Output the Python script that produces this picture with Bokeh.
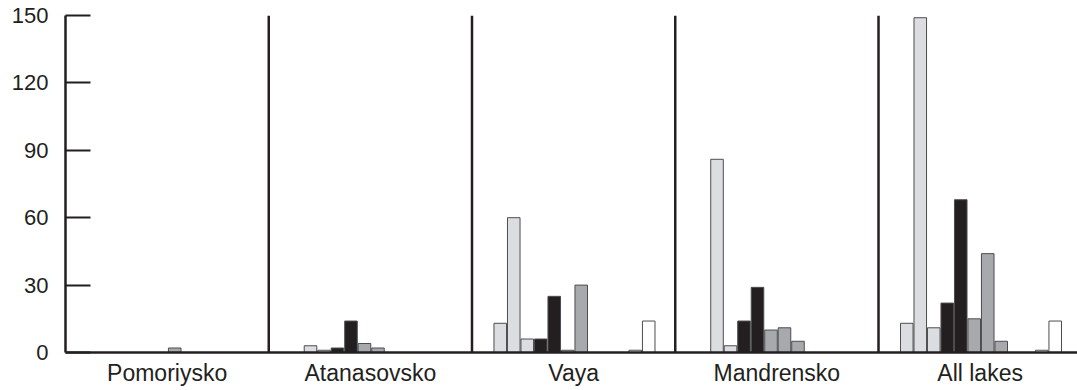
from bokeh.plotting import figure
from bokeh.models import ColumnDataSource, Range1d, FixedTicker
from bokeh.embed import file_html
from bokeh.resources import INLINE

# Lakes (x groups) and counts for the twelve taxa shown in each group
lakes = ["Pomoriysko", "Atanasovsko", "Vaya", "Mandrensko", "All lakes"]

pomoriysko = [0, 0, 0, 0, 0, 0, 2, 0, 0, 0, 0, 0]
atanasovsko = [0, 3, 1, 2, 14, 4, 2, 0, 0, 0, 0, 0]
vaya = [13, 60, 6, 6, 25, 1, 30, 0, 0, 0, 1, 14]
mandrensko = [0, 86, 3, 14, 29, 10, 11, 5, 0, 0, 0, 0]
all_lakes = [13, 149, 11, 22, 68, 15, 44, 5, 0, 0, 1, 14]

# fill per taxon slot (same order in every group)
taxon_colors = ["#dcdde0"] * 3 + ["#231f20"] * 2 + ["#a7a9ac"] * 3 + ["#ffffff"] * 4

y_ticks = [0, 30, 60, 90, 120, 150]

series = [pomoriysko, atanasovsko, vaya, mandrensko, all_lakes]

# geometry in "group" units: each lake occupies one unit on the x axis
slot_w = 0.0664
pad = 0.1058
x_end = 4.979

xs, tops, fills = [], [], []
for g, vals in enumerate(series):
    for k, v in enumerate(vals):
        xs.append(g + pad + (k + 0.5) * slot_w)
        tops.append(v)
        fills.append(taxon_colors[k])

src = ColumnDataSource(dict(x=xs, top=tops, fill=fills))

p = figure(width=1077, height=390, output_backend="svg", toolbar_location=None,
           x_range=Range1d(0, x_end), y_range=Range1d(0, 150),
           min_border_left=65, min_border_right=0, min_border_top=15,
           min_border_bottom=38)
p.outline_line_color = None
p.xgrid.grid_line_color = None
p.ygrid.grid_line_color = None
p.background_fill_color = "white"

p.vbar(x="x", top="top", bottom=0, width=slot_w * 0.93, source=src,
       fill_color="fill", line_color="#4d4d4f", line_width=1)

# separators between lakes
bounds = list(range(1, len(lakes)))
p.segment(x0=bounds, x1=bounds, y0=[0] * len(bounds), y1=[150] * len(bounds),
          line_color="#231f20", line_width=2.5)

ink = "#231f20"
font = "Liberation Sans"

xa = p.xaxis[0]
xa.ticker = FixedTicker(ticks=[i + 0.5 for i in range(len(lakes))])
xa.major_label_overrides = {i + 0.5: name for i, name in enumerate(lakes)}
xa.major_tick_line_color = None
xa.major_tick_in = 0
xa.major_tick_out = 0
xa.minor_tick_line_color = None
xa.axis_line_color = ink
xa.axis_line_width = 2.5
xa.major_label_standoff = 7
xa.major_label_text_font = font
xa.major_label_text_font_size = "23px"
xa.major_label_text_color = ink

ya = p.yaxis[0]
ya.ticker = FixedTicker(ticks=y_ticks)
ya.major_tick_in = 25
ya.major_tick_out = 0
ya.major_tick_line_color = ink
ya.major_tick_line_width = 2
ya.minor_tick_line_color = None
ya.axis_line_color = ink
ya.axis_line_width = 2.5
ya.major_label_standoff = 17
ya.major_label_text_font = font
ya.major_label_text_font_size = "22px"
ya.major_label_text_color = ink

open("out.html", "w").write(file_html(p, INLINE))
